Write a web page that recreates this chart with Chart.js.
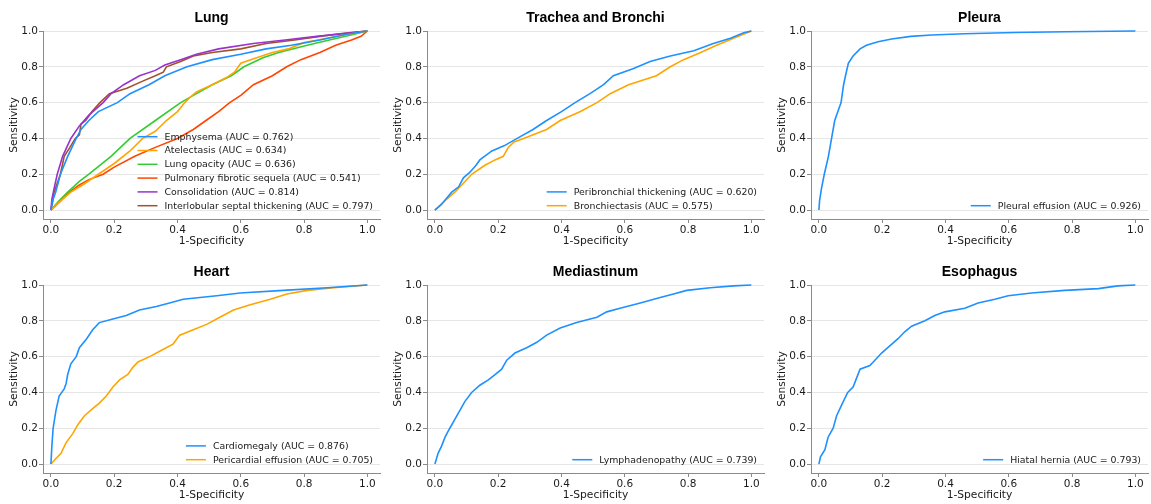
<!DOCTYPE html>
<html>
<head>
<meta charset="utf-8">
<script src="https://cdn.jsdelivr.net/npm/chart.js@4.4.0/dist/chart.umd.min.js"></script>
<style>
    body { margin: 0; background: #fff; width: 1151px; height: 504px; position: relative; overflow: hidden; }
    .panel { position: absolute; width: 381px; height: 250px; }
</style>
</head>
<body>
<div class="panel" style="left:0px;top:0px"><canvas id="lung"></canvas></div>
<div class="panel" style="left:384px;top:0px"><canvas id="trachea"></canvas></div>
<div class="panel" style="left:768px;top:0px"><canvas id="pleura"></canvas></div>
<div class="panel" style="left:0px;top:254px"><canvas id="heart"></canvas></div>
<div class="panel" style="left:384px;top:254px"><canvas id="mediastinum"></canvas></div>
<div class="panel" style="left:768px;top:254px"><canvas id="esophagus"></canvas></div>

<script>
/* ---------------------------
    DATA
------------------------------ */
const axisTicks = [0, 0.2, 0.4, 0.6, 0.8, 1.0];

// Lung
const emphysemaFpr = [0, 0.005, 0.015, 0.03, 0.053, 0.08, 0.095, 0.12, 0.15, 0.21, 0.25, 0.31, 0.36, 0.43, 0.51, 0.6, 0.68, 0.76, 0.85, 0.93, 1.0];
const emphysemaTpr = [0, 0.05, 0.1, 0.2, 0.3, 0.4, 0.45, 0.5, 0.55, 0.6, 0.65, 0.7, 0.75, 0.8, 0.84, 0.87, 0.9, 0.92, 0.95, 0.98, 1.0];

const atelectasisFpr = [0, 0.03, 0.063, 0.1, 0.15, 0.2, 0.25, 0.29, 0.33, 0.365, 0.4, 0.423, 0.44, 0.46, 0.51, 0.555, 0.58, 0.6, 0.65, 0.7, 0.75, 0.8, 0.86, 0.92, 1.0];
const atelectasisTpr = [0, 0.05, 0.1, 0.14, 0.2, 0.26, 0.33, 0.4, 0.44, 0.5, 0.55, 0.6, 0.63, 0.66, 0.7, 0.74, 0.77, 0.82, 0.85, 0.88, 0.9, 0.935, 0.955, 0.975, 1.0];

const opacityFpr = [0, 0.025, 0.053, 0.09, 0.12, 0.19, 0.25, 0.33, 0.41, 0.46, 0.51, 0.57, 0.61, 0.67, 0.72, 0.81, 0.88, 0.955, 1.0];
const opacityTpr = [0, 0.05, 0.1, 0.16, 0.2, 0.3, 0.4, 0.5, 0.6, 0.65, 0.7, 0.75, 0.8, 0.85, 0.88, 0.92, 0.95, 0.98, 1.0];

const fibroticFpr = [0, 0.03, 0.058, 0.09, 0.12, 0.165, 0.2, 0.265, 0.33, 0.4, 0.45, 0.49, 0.53, 0.565, 0.6, 0.64, 0.7, 0.745, 0.79, 0.85, 0.9, 0.95, 0.98, 1.0];
const fibroticTpr = [0, 0.05, 0.1, 0.14, 0.17, 0.2, 0.24, 0.3, 0.35, 0.4, 0.45, 0.5, 0.55, 0.6, 0.64, 0.7, 0.75, 0.8, 0.84, 0.88, 0.92, 0.95, 0.97, 1.0];

const consolidationFpr = [0, 0.003, 0.01, 0.02, 0.037, 0.05, 0.063, 0.09, 0.12, 0.165, 0.19, 0.23, 0.28, 0.33, 0.36, 0.41, 0.46, 0.53, 0.64, 0.74, 0.84, 0.95, 1.0];
const consolidationTpr = [0, 0.06, 0.12, 0.2, 0.3, 0.35, 0.4, 0.47, 0.53, 0.6, 0.65, 0.7, 0.75, 0.78, 0.81, 0.84, 0.87, 0.9, 0.93, 0.95, 0.97, 0.99, 1.0];

const septalFpr = [0, 0.005, 0.01, 0.03, 0.042, 0.06, 0.077, 0.09, 0.095, 0.11, 0.13, 0.155, 0.185, 0.24, 0.29, 0.33, 0.355, 0.365, 0.41, 0.45, 0.51, 0.6, 0.68, 0.77, 0.85, 0.94, 1.0];
const septalTpr = [0, 0.04, 0.1, 0.2, 0.3, 0.35, 0.4, 0.42, 0.48, 0.5, 0.55, 0.6, 0.65, 0.68, 0.72, 0.75, 0.77, 0.8, 0.83, 0.86, 0.88, 0.9, 0.93, 0.95, 0.97, 0.99, 1.0];

// Trachea and Bronchi
const peribronchialFpr = [0, 0.02, 0.053, 0.075, 0.09, 0.11, 0.13, 0.142, 0.18, 0.22, 0.26, 0.31, 0.353, 0.4, 0.443, 0.49, 0.533, 0.564, 0.628, 0.68, 0.744, 0.818, 0.88, 0.934, 0.976, 1.0];
const peribronchialTpr = [0, 0.03, 0.1, 0.13, 0.18, 0.21, 0.25, 0.28, 0.33, 0.36, 0.4, 0.45, 0.5, 0.55, 0.6, 0.65, 0.7, 0.75, 0.79, 0.83, 0.86, 0.89, 0.93, 0.96, 0.99, 1.0];

const bronchiectasisFpr = [0, 0.03, 0.063, 0.09, 0.116, 0.158, 0.19, 0.216, 0.232, 0.25, 0.28, 0.353, 0.396, 0.46, 0.512, 0.554, 0.612, 0.7, 0.744, 0.786, 0.84, 0.89, 0.944, 1.0];
const bronchiectasisTpr = [0, 0.05, 0.1, 0.15, 0.2, 0.25, 0.28, 0.3, 0.35, 0.38, 0.4, 0.45, 0.5, 0.55, 0.6, 0.65, 0.7, 0.75, 0.8, 0.84, 0.88, 0.92, 0.96, 1.0];

// Pleura
const effusionFpr = [0, 0.002, 0.008, 0.017, 0.03, 0.04, 0.05, 0.06, 0.07, 0.078, 0.084, 0.093, 0.108, 0.13, 0.15, 0.187, 0.23, 0.29, 0.356, 0.46, 0.62, 0.78, 1.0];
const effusionTpr = [0, 0.05, 0.12, 0.2, 0.3, 0.4, 0.5, 0.55, 0.6, 0.7, 0.75, 0.82, 0.86, 0.9, 0.92, 0.94, 0.955, 0.97, 0.978, 0.985, 0.992, 0.996, 1.0];

// Heart
const cardiomegalyFpr = [0, 0.003, 0.007, 0.016, 0.026, 0.042, 0.048, 0.053, 0.063, 0.08, 0.09, 0.113, 0.132, 0.153, 0.196, 0.238, 0.28, 0.333, 0.375, 0.418, 0.524, 0.598, 0.735, 0.873, 1.0];
const cardiomegalyTpr = [0, 0.1, 0.2, 0.3, 0.38, 0.42, 0.45, 0.5, 0.56, 0.6, 0.65, 0.7, 0.75, 0.79, 0.81, 0.83, 0.86, 0.88, 0.9, 0.92, 0.94, 0.955, 0.97, 0.985, 1.0];

const pericardialFpr = [0, 0.015, 0.032, 0.048, 0.069, 0.085, 0.106, 0.132, 0.153, 0.175, 0.196, 0.217, 0.243, 0.259, 0.275, 0.312, 0.354, 0.386, 0.407, 0.45, 0.492, 0.534, 0.577, 0.63, 0.693, 0.746, 0.81, 0.894, 1.0];
const pericardialTpr = [0, 0.03, 0.06, 0.12, 0.17, 0.22, 0.27, 0.31, 0.34, 0.38, 0.43, 0.47, 0.5, 0.54, 0.57, 0.6, 0.64, 0.67, 0.72, 0.75, 0.78, 0.82, 0.86, 0.89, 0.92, 0.95, 0.97, 0.985, 1.0];

// Mediastinum
const lymphFpr = [0, 0.005, 0.01, 0.021, 0.032, 0.047, 0.063, 0.079, 0.095, 0.116, 0.142, 0.169, 0.19, 0.211, 0.227, 0.253, 0.29, 0.322, 0.353, 0.396, 0.448, 0.512, 0.543, 0.585, 0.649, 0.712, 0.754, 0.796, 0.87, 0.944, 1.0];
const lymphTpr = [0, 0.03, 0.06, 0.1, 0.15, 0.2, 0.25, 0.3, 0.35, 0.4, 0.44, 0.47, 0.5, 0.53, 0.58, 0.62, 0.65, 0.68, 0.72, 0.76, 0.79, 0.82, 0.85, 0.87, 0.9, 0.93, 0.95, 0.97, 0.985, 0.995, 1.0];

// Esophagus
const herniaFpr = [0, 0.005, 0.019, 0.029, 0.045, 0.056, 0.072, 0.091, 0.108, 0.119, 0.13, 0.161, 0.177, 0.198, 0.224, 0.25, 0.272, 0.293, 0.335, 0.366, 0.398, 0.461, 0.503, 0.556, 0.598, 0.672, 0.777, 0.883, 0.945, 1.0];
const herniaTpr = [0, 0.04, 0.08, 0.15, 0.2, 0.27, 0.33, 0.4, 0.43, 0.48, 0.53, 0.55, 0.58, 0.62, 0.66, 0.7, 0.74, 0.77, 0.8, 0.83, 0.85, 0.87, 0.9, 0.92, 0.94, 0.955, 0.97, 0.98, 0.995, 1.0];

/* ---------------------------
    STYLE
------------------------------ */
const BLUE = "#1E90FF", ORANGE = "#FFA500", GREEN = "#32CD32",
      RED = "#FF4500", PURPLE = "#9932CC", BROWN = "#A0522D";
const SANS = "'DejaVu Sans', sans-serif";
const AXIS_GRAY = "#8a8a8a";
const TEXT = "#1a1a1a";

/* ---------------------------
    PLUGIN : title over the axes + legend inside, lower right
------------------------------ */
const panelDecor = {
    id: "panelDecor",
    afterDraw(chart, args, opts) {
        const ctx = chart.ctx;
        const area = chart.chartArea;
        const sets = chart.data.datasets;

        ctx.save();
        ctx.fillStyle = "#000";
        ctx.font = "bold 14px 'Liberation Sans', Arial, sans-serif";
        ctx.textAlign = "center";
        ctx.textBaseline = "middle";
        ctx.fillText(opts.title, (area.left + area.right) / 2, 18.5);

        ctx.font = "9.4px " + SANS;
        ctx.textAlign = "left";
        const textW = Math.max(...sets.map(d => ctx.measureText(d.label).width));
        const textX = area.right - 7 - textW;
        sets.forEach((d, i) => {
            const y = area.bottom - 13.3 - (sets.length - 1 - i) * 13.8;
            ctx.strokeStyle = d.borderColor;
            ctx.lineWidth = 1.5;
            ctx.beginPath();
            ctx.moveTo(textX - 27, y);
            ctx.lineTo(textX - 7, y);
            ctx.stroke();
            ctx.fillStyle = TEXT;
            ctx.fillText(d.label, textX, y + 0.5);
        });
        ctx.restore();
    }
};

function toPoints(fpr, tpr) {
    return fpr.map((x, i) => ({ x: x, y: tpr[i] }));
}

function makePanel(id, title, curves) {
    new Chart(document.getElementById(id), {
        type: "line",
        data: {
            datasets: curves.map(c => ({
                label: c.label,
                data: toPoints(c.fpr, c.tpr),
                borderColor: c.color,
                backgroundColor: c.color,
                borderWidth: 1.6,
                pointRadius: 0,
                tension: 0,
                fill: false,
                clip: false
            }))
        },
        options: {
            responsive: true,
            maintainAspectRatio: false,
            animation: false,
            layout: { padding: { top: 31, right: 1, left: 0, bottom: 0 } },
            plugins: {
                legend: { display: false },
                tooltip: { enabled: false },
                panelDecor: { title: title }
            },
            scales: {
                x: {
                    type: "linear",
                    min: -0.025,
                    max: 1.04,
                    afterBuildTicks: s => { s.ticks = axisTicks.map(v => ({ value: v })); },
                    afterFit: s => { s.height = 31; },
                    ticks: {
                        callback: v => Number(v).toFixed(1),
                        font: { family: SANS, size: 10.5 },
                        color: TEXT,
                        padding: 1,
                        maxRotation: 0,
                        autoSkip: false
                    },
                    grid: { display: true, drawOnChartArea: false, drawTicks: true, tickLength: 4, tickColor: AXIS_GRAY },
                    border: { display: true, color: AXIS_GRAY, width: 1 },
                    title: {
                        display: true,
                        text: "1-Specificity",
                        font: { family: SANS, size: 10.7 },
                        color: TEXT,
                        padding: { top: 0, bottom: 2.6 }
                    }
                },
                y: {
                    type: "linear",
                    min: -0.05,
                    max: 1.0,
                    afterBuildTicks: s => { s.ticks = axisTicks.map(v => ({ value: v })); },
                    afterFit: s => { s.width = 43; },
                    ticks: {
                        callback: v => Number(v).toFixed(1),
                        font: { family: SANS, size: 10.5 },
                        color: TEXT,
                        padding: 1
                    },
                    grid: { display: true, color: "#e6e6e6", lineWidth: 1, drawTicks: true, tickLength: 4, tickColor: AXIS_GRAY },
                    border: { display: true, color: AXIS_GRAY, width: 1 },
                    title: {
                        display: true,
                        text: "Sensitivity",
                        font: { family: SANS, size: 10.7 },
                        color: TEXT,
                        padding: { top: 7.5, bottom: 0 }
                    }
                }
            }
        },
        plugins: [panelDecor]
    });
}

/* ---------------------------
    PANELS
------------------------------ */
makePanel("lung", "Lung", [
    { label: "Emphysema (AUC = 0.762)", fpr: emphysemaFpr, tpr: emphysemaTpr, color: BLUE },
    { label: "Atelectasis (AUC = 0.634)", fpr: atelectasisFpr, tpr: atelectasisTpr, color: ORANGE },
    { label: "Lung opacity (AUC = 0.636)", fpr: opacityFpr, tpr: opacityTpr, color: GREEN },
    { label: "Pulmonary fibrotic sequela (AUC = 0.541)", fpr: fibroticFpr, tpr: fibroticTpr, color: RED },
    { label: "Consolidation (AUC = 0.814)", fpr: consolidationFpr, tpr: consolidationTpr, color: PURPLE },
    { label: "Interlobular septal thickening (AUC = 0.797)", fpr: septalFpr, tpr: septalTpr, color: BROWN }
]);

makePanel("trachea", "Trachea and Bronchi", [
    { label: "Peribronchial thickening (AUC = 0.620)", fpr: peribronchialFpr, tpr: peribronchialTpr, color: BLUE },
    { label: "Bronchiectasis (AUC = 0.575)", fpr: bronchiectasisFpr, tpr: bronchiectasisTpr, color: ORANGE }
]);

makePanel("pleura", "Pleura", [
    { label: "Pleural effusion (AUC = 0.926)", fpr: effusionFpr, tpr: effusionTpr, color: BLUE }
]);

makePanel("heart", "Heart", [
    { label: "Cardiomegaly (AUC = 0.876)", fpr: cardiomegalyFpr, tpr: cardiomegalyTpr, color: BLUE },
    { label: "Pericardial effusion (AUC = 0.705)", fpr: pericardialFpr, tpr: pericardialTpr, color: ORANGE }
]);

makePanel("mediastinum", "Mediastinum", [
    { label: "Lymphadenopathy (AUC = 0.739)", fpr: lymphFpr, tpr: lymphTpr, color: BLUE }
]);

makePanel("esophagus", "Esophagus", [
    { label: "Hiatal hernia (AUC = 0.793)", fpr: herniaFpr, tpr: herniaTpr, color: BLUE }
]);
</script>
</body>
</html>
